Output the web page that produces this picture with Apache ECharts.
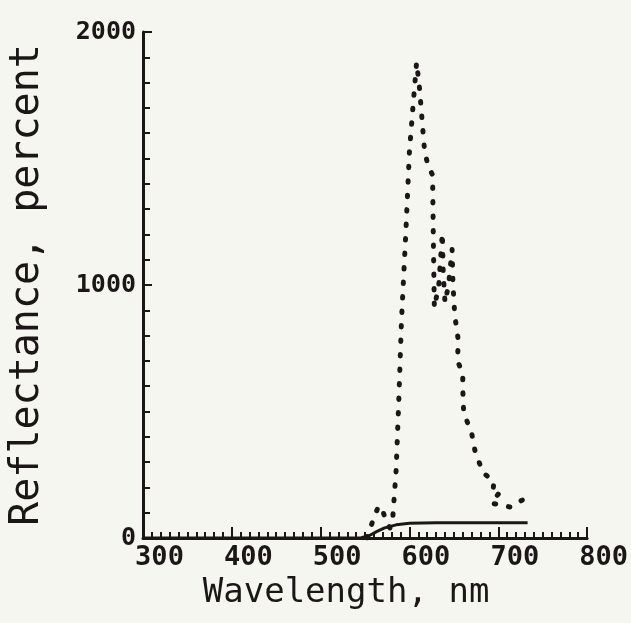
<!DOCTYPE html>
<html>
<head>
<meta charset="utf-8">
<script src="https://cdn.jsdelivr.net/npm/echarts@6/dist/echarts.min.js"></script>
<style>
  html, body { margin: 0; padding: 0; background: #f6f6f1; }
  #chart { width: 631px; height: 623px; }
</style>
</head>
<body>
<div id="chart"></div>
<script>
// Dotted curve: wavelength (nm) and reflectance (percent), in drawing order
const dottedWavelength = [552, 559, 565, 569, 574, 578, 581, 585, 588, 591, 596, 600, 605, 608, 611, 614, 617, 621, 626, 627, 628, 633, 637, 638, 640, 644, 648, 649, 651, 655, 654, 660, 660, 661, 670, 674, 683, 695, 694, 701, 692, 714, 722, 727];
const dottedReflectance = [0, 70, 125, 120, 60, 40, 70, 270, 545, 860, 1215, 1530, 1750, 1880, 1790, 1660, 1530, 1470, 1435, 1150, 910, 1000, 1205, 1050, 930, 1000, 1140, 1000, 880, 780, 700, 650, 590, 495, 415, 340, 257, 225, 180, 178, 138, 122, 140, 150];

// Solid curve
const solidWavelength = [300, 545, 555, 563, 572, 585, 600, 630, 680, 733];
const solidReflectance = [0, 0, 10, 25, 40, 52, 58, 60, 60, 60];

const xTickLabels = ['300', '400', '500', '600', '700', '800'];
const yTickLabels = ['0', '1000', '2000'];

const ink = '#1c1717';
const toPairs = (xs, ys) => xs.map((x, i) => [x, ys[i]]);

const chart = echarts.init(document.getElementById('chart'));
chart.setOption({
  backgroundColor: '#f6f6f1',
  animation: false,
  grid: { left: 142, right: 37, top: 32, bottom: 85, containLabel: false },
  xAxis: {
    type: 'value',
    min: 300, max: 800, interval: 100,
    name: 'Wavelength, nm',
    nameLocation: 'middle',
    nameGap: 29,
    nameTextStyle: { fontFamily: 'DejaVu Sans Mono', fontSize: 34, color: ink, padding: [0, 38, 0, 0] },
    axisLine: { show: true, lineStyle: { color: ink, width: 3 } },
    axisTick: { show: true, inside: true, length: 11, lineStyle: { color: ink, width: 2 } },
    minorTick: { show: true, splitNumber: 10, length: 6, lineStyle: { color: ink, width: 2 } },
    splitLine: { show: false },
    axisLabel: {
      margin: 6,
      align: 'center',
      padding: [0, 0, 0, 33],
      fontFamily: 'DejaVu Sans Mono', fontWeight: 'bold', fontSize: 27, color: ink,
      formatter: v => xTickLabels[Math.round((v - 300) / 100)] || ''
    }
  },
  yAxis: {
    type: 'value',
    min: 0, max: 2000, interval: 1000,
    name: 'Reflectance, percent',
    nameLocation: 'middle',
    nameGap: 95,
    nameTextStyle: { fontFamily: 'DejaVu Sans Mono', fontSize: 40, color: ink },
    axisLine: { show: true, lineStyle: { color: ink, width: 3 } },
    axisTick: { show: true, inside: true, length: 9, lineStyle: { color: ink, width: 2 } },
    minorTick: { show: true, splitNumber: 10, length: 7, lineStyle: { color: ink, width: 2 } },
    splitLine: { show: false },
    axisLabel: {
      margin: 7,
      fontFamily: 'DejaVu Sans Mono', fontWeight: 'bold', fontSize: 25, color: ink,
      formatter: v => yTickLabels[Math.round(v / 1000)] || ''
    }
  },
  series: [
    {
      type: 'line',
      data: toPairs(solidWavelength, solidReflectance),
      showSymbol: false,
      smooth: false,
      lineStyle: { color: ink, width: 3 },
      z: 3
    },
    {
      type: 'line',
      data: toPairs(dottedWavelength, dottedReflectance),
      showSymbol: false,
      smooth: false,
      lineStyle: { color: ink, width: 5, type: [1.5, 13], cap: 'round', join: 'round' },
      z: 4
    }
  ]
});
</script>
</body>
</html>
